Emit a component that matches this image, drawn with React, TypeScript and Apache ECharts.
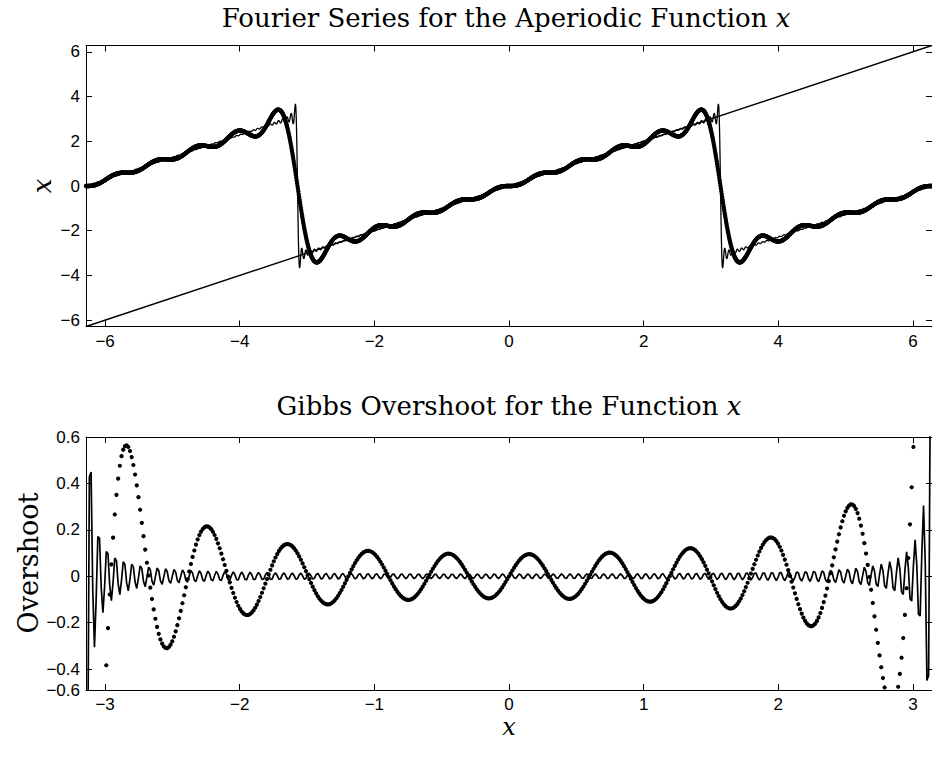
import React, { useEffect, useRef } from "react";
import * as echarts from "echarts";

// ---- data description ----
// Partial sums of the Fourier series of f(x) = x on (-pi, pi): b_n = 2(-1)^(n+1)/n
const harmonicCounts = [10, 100]; // dotted curve: 10 terms, solid curve: 100 terms
const topXRange = [-2 * Math.PI, 2 * Math.PI];
const bottomXRange = [-Math.PI, Math.PI];
const topSampleCount = [2001];
const bottomSampleCount = [501];
const topTicks = [-6, -4, -2, 0, 2, 4, 6];
const bottomXTicks = [-3, -2, -1, 0, 1, 2, 3];
const overshootTicks = [-0.6, -0.4, -0.2, 0, 0.2, 0.4, 0.6];
const overshootRange = [-0.49, 0.6];

const TITLE_TOP = "Fourier Series for the Aperiodic Function ";
const TITLE_BOTTOM = "Gibbs Overshoot for the Function ";

function linspace(a: number, b: number, m: number): number[] {
  const out: number[] = [];
  for (let i = 0; i < m; i++) out.push(a + ((b - a) * i) / (m - 1));
  return out;
}

function partialSum(N: number, x: number): number {
  let s = 0;
  for (let n = 1; n <= N; n++) {
    s += ((n % 2 === 1 ? 2 : -2) * Math.sin(n * x)) / n;
  }
  return s;
}

const fmtMinus = (v: number) => {
  const r = Math.round(v * 100) / 100;
  const s = String(Math.abs(r));
  return r < 0 ? "\u2212" + s : s;
};

export default function App() {
  const ref = useRef<HTMLDivElement>(null);

  useEffect(() => {
    if (!ref.current) return;
    document.body.style.overflow = "hidden";
    const chart = echarts.init(ref.current, undefined, { renderer: "svg" });

    const xsTop = linspace(topXRange[0], topXRange[1], topSampleCount[0]);
    const xsBot = linspace(bottomXRange[0], bottomXRange[1], bottomSampleCount[0]);
    const [nLow, nHigh] = harmonicCounts;

    const topDots = xsTop.map((x) => [x, partialSum(nLow, x)]);
    const topLine = xsTop.map((x) => [x, partialSum(nHigh, x)]);
    const identity = [
      [topXRange[0], topXRange[0]],
      [topXRange[1], topXRange[1]],
    ];
    const botDots = xsBot.map((x) => [x, x - partialSum(nLow, x)]);
    const botLine = xsBot.map((x) => [x, x - partialSum(nHigh, x)]);

    const labelFont = {
      fontFamily: "Liberation Sans",
      fontSize: 17,
      color: "#000",
    };
    const axisLine = { show: true, lineStyle: { color: "#000", width: 1 } };

    const mkX = (grid: number, pos: "bottom" | "top", min: number, max: number, ticks: number[], margin: number) => ({
      type: "value",
      gridIndex: grid,
      position: pos,
      min,
      max,
      axisLine: { ...axisLine, onZero: false },
      splitLine: { show: false },
      axisTick: { show: true, inside: true, length: 6, customValues: ticks, lineStyle: { color: "#000" } },
      axisLabel: pos === "bottom"
        ? { show: true, customValues: ticks, margin, formatter: (v: number) => fmtMinus(v), ...labelFont }
        : { show: false },
    });

    const mkY = (grid: number, pos: "left" | "right", min: number, max: number, ticks: number[], labelVals: number[], fmt: (v: number) => string) => ({
      type: "value",
      gridIndex: grid,
      position: pos,
      min,
      max,
      axisLine: { ...axisLine, onZero: false },
      splitLine: { show: false },
      axisTick: { show: true, inside: true, length: 6, customValues: ticks, lineStyle: { color: "#000" } },
      axisLabel: pos === "left"
        ? { show: true, customValues: labelVals, margin: 6, formatter: fmt, ...labelFont }
        : { show: false },
    });

    const ovTickVals = overshootTicks.filter((v) => v >= overshootRange[0] && v <= overshootRange[1]);
    const ovLabelVals = overshootTicks.map((v) => Math.max(v, overshootRange[0]));
    const ovFmt = (v: number) => (v <= overshootRange[0] + 1e-9 ? fmtMinus(overshootTicks[0]) : fmtMinus(v));

    const option: any = {
      animation: false,
      backgroundColor: "#fff",
      grid: [
        { left: 86, top: 45.5, width: 848, height: 281 },
        { left: 86, top: 437, width: 848, height: 253 },
      ],
      xAxis: [
        mkX(0, "bottom", topXRange[0], topXRange[1], topTicks, 6),
        mkX(0, "top", topXRange[0], topXRange[1], topTicks, 6),
        mkX(1, "bottom", bottomXRange[0], bottomXRange[1], bottomXTicks, 6),
        mkX(1, "top", bottomXRange[0], bottomXRange[1], bottomXTicks, 6),
      ],
      yAxis: [
        mkY(0, "left", topXRange[0], topXRange[1], topTicks, topTicks, fmtMinus),
        mkY(0, "right", topXRange[0], topXRange[1], topTicks, topTicks, fmtMinus),
        mkY(1, "left", overshootRange[0], overshootRange[1], ovTickVals, ovLabelVals, ovFmt),
        mkY(1, "right", overshootRange[0], overshootRange[1], ovTickVals, ovLabelVals, ovFmt),
      ],
      series: [
        {
          type: "line",
          xAxisIndex: 0,
          yAxisIndex: 0,
          data: identity,
          showSymbol: false,
          lineStyle: { color: "#000", width: 1.4 },
          silent: true,
          z: 2,
        },
        {
          type: "scatter",
          xAxisIndex: 0,
          yAxisIndex: 0,
          data: topDots,
          symbolSize: 4.4,
          itemStyle: { color: "#000", opacity: 1 },
          silent: true,
          clip: true,
          z: 3,
        },
        {
          type: "line",
          xAxisIndex: 0,
          yAxisIndex: 0,
          data: topLine,
          showSymbol: false,
          lineStyle: { color: "#000", width: 1.3 },
          silent: true,
          clip: true,
          z: 4,
        },
        {
          type: "scatter",
          xAxisIndex: 2,
          yAxisIndex: 2,
          data: botDots,
          symbolSize: 4.2,
          itemStyle: { color: "#000", opacity: 1 },
          silent: true,
          clip: true,
          z: 3,
        },
        {
          type: "line",
          xAxisIndex: 2,
          yAxisIndex: 2,
          data: botLine,
          showSymbol: false,
          lineStyle: { color: "#000", width: 1.7 },
          silent: true,
          clip: true,
          z: 4,
        },
      ],
      graphic: [
        {
          type: "text",
          x: 506,
          y: 18,
          silent: true,
          style: {
            text: TITLE_TOP + "{i|x}",
            font: '26px "DejaVu Serif"',
            fill: "#000",
            textAlign: "center",
            textVerticalAlign: "middle",
            rich: { i: { fontStyle: "italic", fontFamily: "DejaVu Serif", fontSize: 26 } },
          },
        },
        {
          type: "text",
          x: 509,
          y: 406,
          silent: true,
          style: {
            text: TITLE_BOTTOM + "{i|x}",
            font: '26px "DejaVu Serif"',
            fill: "#000",
            textAlign: "center",
            textVerticalAlign: "middle",
            rich: { i: { fontStyle: "italic", fontFamily: "DejaVu Serif", fontSize: 26 } },
          },
        },
        {
          type: "text",
          x: 42,
          y: 186,
          rotation: Math.PI / 2,
          silent: true,
          style: {
            text: "x",
            font: 'italic 26px "DejaVu Serif"',
            fill: "#000",
            textAlign: "center",
            textVerticalAlign: "middle",
          },
        },
        {
          type: "text",
          x: 28,
          y: 563,
          rotation: Math.PI / 2,
          silent: true,
          style: {
            text: "Overshoot",
            font: '27px "DejaVu Serif"',
            fill: "#000",
            textAlign: "center",
            textVerticalAlign: "middle",
          },
        },
        {
          type: "text",
          x: 509,
          y: 727,
          silent: true,
          style: {
            text: "x",
            font: 'italic 24px "DejaVu Serif"',
            fill: "#000",
            textAlign: "center",
            textVerticalAlign: "middle",
          },
        },
      ],
    };

    chart.setOption(option);
    return () => chart.dispose();
  }, []);

  return (
    <div
      ref={ref}
      style={{ position: "fixed", left: 0, top: 0, width: 932, height: 765, background: "#fff" }}
    />
  );
}
